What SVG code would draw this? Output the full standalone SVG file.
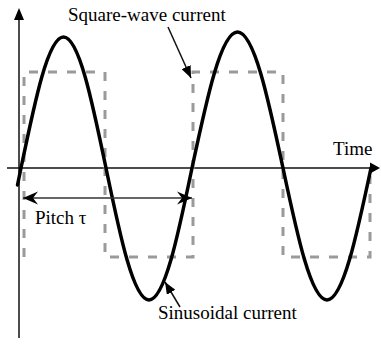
<svg xmlns="http://www.w3.org/2000/svg" width="381" height="344" viewBox="0 0 381 344">
<defs>
<style>
.axis{stroke:#111;stroke-width:1.5;fill:none}
.sine{stroke:#000;stroke-width:3.5;fill:none;stroke-linejoin:round;stroke-linecap:round}
.square{stroke:#9a9a9a;stroke-width:3;fill:none;stroke-dasharray:9 10}
.lead{stroke:#111;stroke-width:1.5;fill:none}
.lbl{font-family:"Liberation Serif","Times New Roman",serif;font-size:19px;fill:#000}
</style>
<marker id="tri" viewBox="-12 -5 13 10" refX="0" refY="0" markerWidth="13" markerHeight="10" markerUnits="userSpaceOnUse" orient="auto">
<path d="M0,0 L-12,-5 L-12,5 Z" fill="#000"/>
</marker>
<marker id="barb" viewBox="-15 -7 16 14" refX="0" refY="0" markerWidth="16" markerHeight="14" markerUnits="userSpaceOnUse" orient="auto-start-reverse">
<path d="M0,0 L-15,-6.5 L-10,0 L-15,6.5 Z" fill="#000"/>
</marker>
</defs>
<g id="axes">
<line class="axis" x1="19" y1="338" x2="19" y2="16"/>
<path d="M19,8 L14,20 L24,20 Z" fill="#000"/>
<line class="axis" x1="7" y1="168" x2="372" y2="168"/>
<path d="M380,168 L370,162.5 L370,173.5 Z" fill="#000"/>
</g>
<g id="square-wave">
<path class="square" d="M24,257 L24,72 L105,72 L105,257 L193,257 L193,72 L283,72 L283,257 L370,257 L370,176"/>
</g>
<g id="sinusoid">
<path class="sine" d="M17.5,185 L21,168 C34.9,100.9 48.1,37 63.5,37 C78.9,37 92.1,100.9 106,168 C120,235.6 133.4,300 149,300 C164.6,300 178,235.6 192,168 C206.8,98.4 221,32 237.5,32 C254,32 268.2,98.4 283,168 C297.3,235.6 311.1,300 327,300 C342.9,300 356.7,235.6 371,168"/>
</g>
<g id="connectors">
<line class="lead" x1="168" y1="27" x2="191" y2="78" marker-end="url(#tri)"/>
<line class="lead" x1="180" y1="307" x2="165" y2="282" marker-end="url(#tri)"/>
<line id="pitch-arrow" x1="23" y1="198" x2="192" y2="198" stroke="#333" stroke-width="1.5" marker-start="url(#barb)" marker-end="url(#barb)"/>
</g>
<g id="labels">
<text class="lbl" x="68" y="21">Square-wave current</text>
<text class="lbl" x="333" y="155">Time</text>
<text class="lbl" x="35" y="224">Pitch τ</text>
<text class="lbl" x="158" y="319">Sinusoidal current</text>
</g>
</svg>
